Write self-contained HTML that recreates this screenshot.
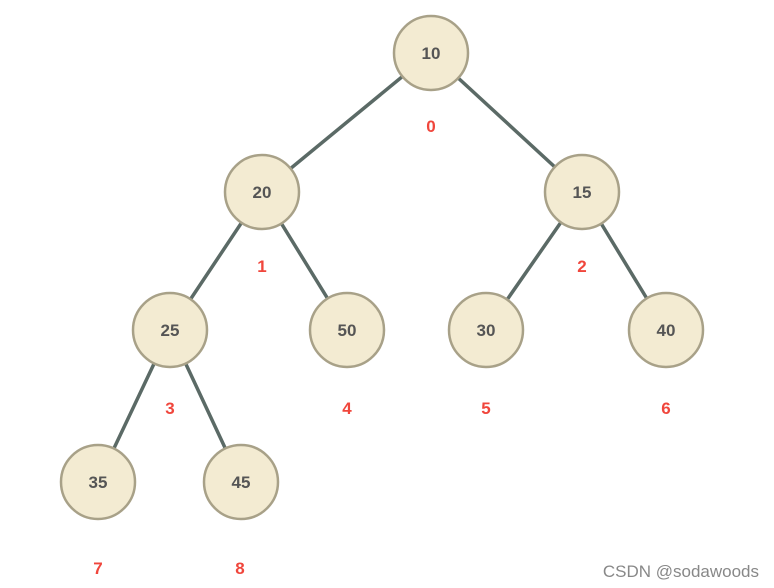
<!DOCTYPE html>
<html><head><meta charset="utf-8"><style>
html,body{margin:0;padding:0;background:#fff;width:774px;height:588px;overflow:hidden}
</style></head><body>
<svg width="774" height="588" xmlns="http://www.w3.org/2000/svg" font-family="Liberation Sans, sans-serif">
<rect width="774" height="588" fill="#fff"/>
<g stroke="#5b6a66" stroke-width="3.5" stroke-linecap="round">
<line x1="431" y1="53" x2="262" y2="192"/>
<line x1="431" y1="53" x2="582" y2="192"/>
<line x1="262" y1="192" x2="170" y2="330"/>
<line x1="262" y1="192" x2="347" y2="330"/>
<line x1="582" y1="192" x2="486" y2="330"/>
<line x1="582" y1="192" x2="666" y2="330"/>
<line x1="170" y1="330" x2="98" y2="482"/>
<line x1="170" y1="330" x2="241" y2="482"/>
</g>
<g fill="#f3ebd2" stroke="#a8a188" stroke-width="2.5">
<circle cx="431" cy="53" r="37"/>
<circle cx="262" cy="192" r="37"/>
<circle cx="582" cy="192" r="37"/>
<circle cx="170" cy="330" r="37"/>
<circle cx="347" cy="330" r="37"/>
<circle cx="486" cy="330" r="37"/>
<circle cx="666" cy="330" r="37"/>
<circle cx="98" cy="482" r="37"/>
<circle cx="241" cy="482" r="37"/>
</g>
<g fill="#555" font-size="17" font-weight="bold" text-anchor="middle">
<text x="431" y="59">10</text>
<text x="262" y="198">20</text>
<text x="582" y="198">15</text>
<text x="170" y="336">25</text>
<text x="347" y="336">50</text>
<text x="486" y="336">30</text>
<text x="666" y="336">40</text>
<text x="98" y="488">35</text>
<text x="241" y="488">45</text>
</g>
<g fill="#f0463c" font-size="17" font-weight="bold" text-anchor="middle">
<text x="431" y="132">0</text>
<text x="262" y="272">1</text>
<text x="582" y="272">2</text>
<text x="170" y="414">3</text>
<text x="347" y="414">4</text>
<text x="486" y="414">5</text>
<text x="666" y="414">6</text>
<text x="98" y="574">7</text>
<text x="240" y="574">8</text>
</g>
<text x="759" y="577" fill="#888" font-size="17" text-anchor="end">CSDN @sodawoods</text>
</svg>
</body></html>
